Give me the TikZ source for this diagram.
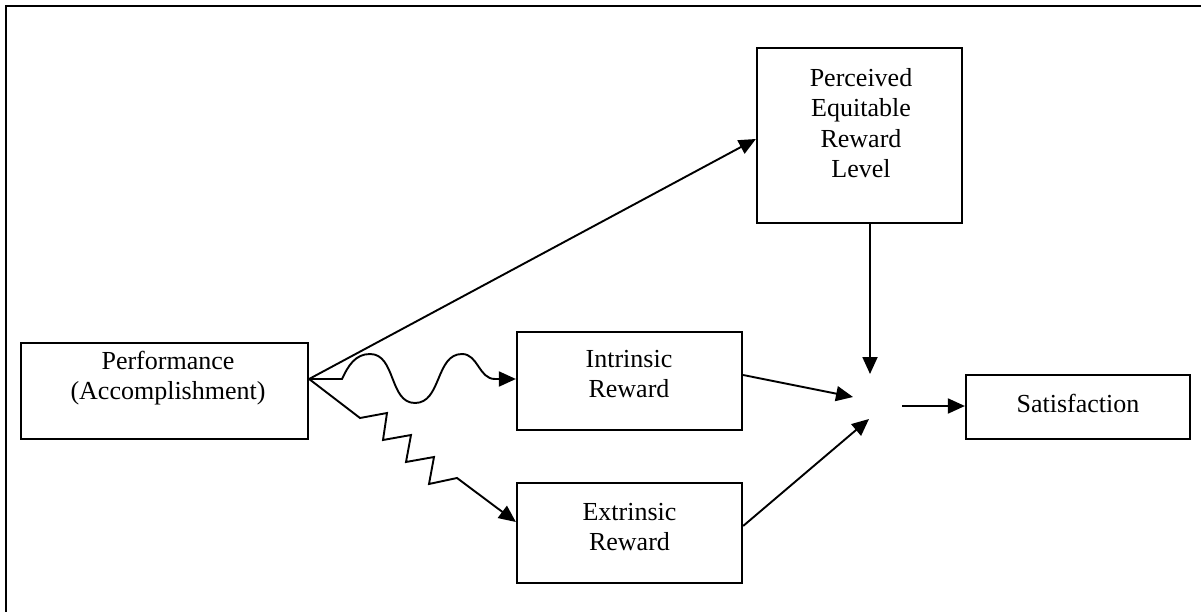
\documentclass[tikz,border=0pt]{standalone}
\usepackage{fontspec}
\setmainfont{Liberation Serif}
\usetikzlibrary{arrows.meta}
\begin{document}
\begin{tikzpicture}[x=1pt,y=1pt,
  box/.style={draw,line width=2.2pt,rectangle,inner sep=0pt},
  lbl/.style={inner sep=0pt,align=center,font=\fontsize{26}{30.5}\selectfont},
  conn/.style={line width=1.9pt,-{Triangle[length=17pt,width=15pt]}}]
\useasboundingbox (0,-612) rectangle (1201,0);
\draw[line width=2.5pt] (6,-612) -- (6,-6) -- (1201,-6);
% boxes
\node[box,minimum width=287pt,minimum height=96pt] (perf) at (164.5,-391) {};
\node[box,minimum width=205pt,minimum height=175pt] (perc) at (859.5,-135.5) {};
\node[box,minimum width=225pt,minimum height=98pt] (intr) at (629.5,-381) {};
\node[box,minimum width=225pt,minimum height=100pt] (extr) at (629.5,-533) {};
\node[box,minimum width=224pt,minimum height=64pt] (sat) at (1078,-407) {};
% labels
\node[lbl] (perft) at (168,-378) {Performance\\(Accomplishment)};
\node[lbl] (perct) at (861,-123) {Perceived\\Equitable\\Reward\\Level};
\node[lbl] (intrt) at (629,-374) {Intrinsic\\Reward};
\node[lbl] (extrt) at (629.5,-527) {Extrinsic\\Reward};
\node[lbl] (satt) at (1078,-403) {Satisfaction};
% junction points
\coordinate (jt) at (870,-374);
\coordinate (jl) at (853,-397);
\coordinate (jb) at (869,-419);
\coordinate (jr) at (902,-406);
\coordinate (pout) at ([yshift=12pt]perf.east);
% connectors
\draw[conn] (pout) -- ([yshift=-3.5pt]perc.west);
\draw[conn] (pout) -- (342,-379)
  to[out=65,in=180] (370,-354)
  to[out=0,in=180] (415,-403)
  to[out=0,in=180] (462,-354)
  to[out=0,in=180] (495,-379)
  -- ([yshift=2pt]intr.west);
\draw[conn] (pout) -- (360,-418) -- (387,-413) -- (383,-440) -- (411,-435)
  -- (406,-462) -- (434,-457) -- (429,-484) -- (457,-478)
  -- ([yshift=11pt]extr.west);
\draw[conn] ([xshift=10.5pt]perc.south) -- (jt);
\draw[conn] ([yshift=6pt]intr.east) -- (jl);
\draw[conn] ([yshift=7pt]extr.east) -- (jb);
\draw[conn] (jr) -- ([yshift=1pt]sat.west);
\end{tikzpicture}
\end{document}
